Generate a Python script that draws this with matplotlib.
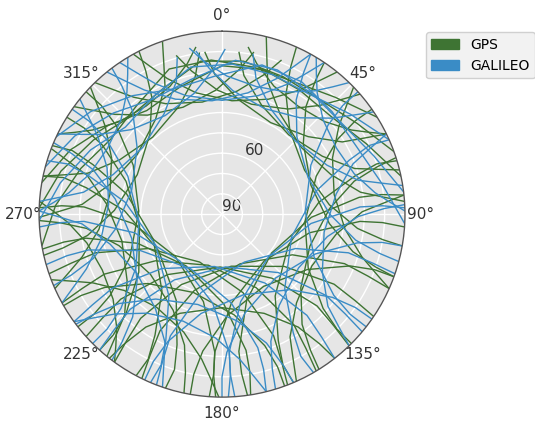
import numpy as np
import matplotlib
matplotlib.use("Agg")
import matplotlib.pyplot as plt
from matplotlib.patches import Patch

# satellite tracks: azimuth (deg) and elevation (deg)
gps_az = [
    [331, 334, 338, 348, 5, 22, 32, 36, 39],
    [354, 357, 8, 28, 48, 59, 62, 64],
    [14, 16, 19, 30, 50, 70, 81, 84, 86],
    [34, 35, 38, 49, 72, 95, 106, 109, 110],
    [55, 55, 57, 68, 95, 122, 133, 135, 135],
    [73, 72, 74, 83, 115, 147, 156, 158, 157],
    [94, 93, 93, 102, 138, 174, 183, 183, 182],
    [114, 113, 112, 120, 160, 200, 208, 207, 206],
    [136, 135, 134, 142, 182, 222, 230, 229, 228],
    [159, 158, 157, 165, 205, 245, 253, 252, 251],
    [184, 183, 183, 192, 228, 264, 273, 273, 272],
    [208, 207, 209, 218, 250, 282, 291, 293, 292],
    [232, 232, 234, 245, 272, 299, 310, 312, 312],
    [257, 258, 261, 272, 295, 318, 329, 332, 333],
    [282, 284, 287, 298, 318, 338, 349, 352],
    [306, 309, 313, 323, 340, 357, 7, 11],
    [344, 348, 358, 15, 32, 42, 46, 49],
    [6, 9, 20, 40, 60, 71, 74, 76],
    [24, 25, 28, 39, 62, 85, 96, 99, 100],
    [84, 83, 83, 92, 128, 164, 173, 173, 172],
    [124, 123, 122, 130, 170, 210, 218, 217, 216],
    [149, 148, 147, 155, 195, 235, 243, 242, 241],
    [171, 170, 170, 179, 215, 251, 260, 260, 259],
    [198, 197, 199, 208, 240, 272, 281, 283, 282],
    [222, 222, 224, 235, 262, 289, 300, 302, 302],
    [269, 271, 274, 285, 305, 325, 336, 339, 341],
    [316, 319, 323, 333, 350, 7, 17, 21],
    [110, 110, 112, 123, 150, 177, 188, 190, 190],
    [160, 160, 162, 173, 200, 227, 238, 240, 240],
    [192, 193, 196, 207, 230, 253, 264, 267, 268],
    [219, 221, 224, 235, 255, 275, 286, 289, 291],
    [72, 73, 76, 87, 110, 133, 144, 147, 148],
    [142, 143, 146, 157, 180, 203, 214, 217, 218],
    [84, 86, 89, 100, 120, 140, 151, 154, 156],
    [181, 184, 188, 198, 215, 232, 242, 246, 249],
    [246, 249, 253, 263, 280, 297, 307, 311, 314],
    [46, 49, 53, 63, 80, 97, 107, 111, 114],
    [296, 299, 303, 312, 325, 338, 347, 351],
    [9, 13, 22, 35, 48, 57, 61, 64],
    [216, 219, 223, 232, 245, 258, 267, 271, 274],
    [272, 285, 300, 316, 334, 352, 8, 24, 40, 56, 70],
    [260, 273, 288, 304, 322, 340, 356, 12, 28, 44, 58],
    [280, 293, 308, 324, 342, 0, 16, 32, 48, 64, 78],
]
gps_el = [
    [0, 9, 18, 29, 34, 29, 18, 9, 0],
    [10, 21, 33, 39, 33, 21, 10, 0],
    [0, 10, 21, 33, 39, 33, 21, 10, 0],
    [0, 10, 23, 37, 44, 37, 23, 10, 0],
    [0, 10, 22, 40, 49, 40, 22, 10, 0],
    [0, 10, 22, 42, 54, 42, 22, 10, 0],
    [0, 11, 22, 46, 59, 46, 22, 11, 0],
    [0, 12, 25, 50, 64, 50, 25, 12, 0],
    [0, 12, 25, 50, 64, 50, 25, 12, 0],
    [0, 12, 25, 50, 64, 50, 25, 12, 0],
    [0, 11, 22, 46, 59, 46, 22, 11, 0],
    [0, 10, 22, 42, 54, 42, 22, 10, 0],
    [0, 10, 22, 40, 49, 40, 22, 10, 0],
    [0, 10, 23, 37, 44, 37, 23, 10, 0],
    [0, 10, 21, 33, 39, 33, 21, 10],
    [0, 9, 18, 29, 34, 29, 18, 9],
    [9, 18, 29, 34, 29, 18, 9, 0],
    [10, 21, 33, 39, 33, 21, 10, 0],
    [0, 10, 23, 37, 44, 37, 23, 10, 0],
    [0, 11, 22, 46, 59, 46, 22, 11, 0],
    [0, 12, 25, 50, 64, 50, 25, 12, 0],
    [0, 12, 25, 50, 64, 50, 25, 12, 0],
    [0, 11, 22, 46, 59, 46, 22, 11, 0],
    [0, 10, 22, 42, 54, 42, 22, 10, 0],
    [0, 10, 22, 40, 49, 40, 22, 10, 0],
    [0, 10, 21, 33, 39, 33, 21, 10, 0],
    [0, 9, 18, 29, 34, 29, 18, 9],
    [0, 10, 22, 40, 49, 40, 22, 10, 0],
    [0, 10, 22, 40, 49, 40, 22, 10, 0],
    [0, 10, 23, 37, 44, 37, 23, 10, 0],
    [0, 10, 21, 33, 39, 33, 21, 10, 0],
    [0, 10, 23, 37, 44, 37, 23, 10, 0],
    [0, 10, 23, 37, 44, 37, 23, 10, 0],
    [0, 10, 21, 33, 39, 33, 21, 10, 0],
    [0, 9, 18, 29, 34, 29, 18, 9, 0],
    [0, 9, 18, 29, 34, 29, 18, 9, 0],
    [0, 9, 18, 29, 34, 29, 18, 9, 0],
    [0, 7, 14, 22, 25, 22, 14, 7],
    [7, 14, 22, 25, 22, 14, 7, 0],
    [0, 7, 14, 22, 25, 22, 14, 7, 0],
    [0, 8, 17, 24, 22, 14, 14, 16, 16, 10, 0],
    [0, 8, 17, 24, 22, 14, 14, 16, 16, 10, 0],
    [0, 9, 19, 27, 24, 17, 16, 18, 18, 11, 0],
]

galileo_az = [
    [326, 329, 333, 343, 0, 17, 27, 31, 34],
    [351, 355, 5, 22, 39, 49, 53, 56],
    [11, 14, 25, 45, 65, 76, 79, 81],
    [29, 30, 33, 44, 67, 90, 101, 104, 105],
    [48, 48, 50, 61, 88, 115, 126, 128, 128],
    [66, 65, 67, 76, 108, 140, 149, 151, 150],
    [88, 87, 87, 96, 132, 168, 177, 177, 176],
    [109, 108, 107, 115, 155, 195, 203, 202, 201],
    [130, 129, 128, 136, 176, 216, 224, 223, 222],
    [142, 141, 140, 148, 188, 228, 236, 235, 234],
    [166, 165, 165, 174, 210, 246, 255, 255, 254],
    [178, 177, 177, 186, 222, 258, 267, 267, 266],
    [203, 202, 204, 213, 245, 277, 286, 288, 287],
    [225, 225, 227, 238, 265, 292, 303, 305, 305],
    [247, 248, 251, 262, 285, 308, 319, 322, 323],
    [274, 276, 279, 290, 310, 330, 341, 344],
    [296, 299, 303, 313, 330, 347, 357, 1],
    [321, 324, 328, 338, 355, 12, 22, 26, 29],
    [100, 100, 102, 113, 140, 167, 178, 180, 180],
    [125, 125, 127, 138, 165, 192, 203, 205, 205],
    [157, 158, 161, 172, 195, 218, 229, 232, 233],
    [199, 201, 204, 215, 235, 255, 266, 269, 271],
    [217, 218, 221, 232, 255, 278, 289, 292, 293],
    [64, 66, 69, 80, 100, 120, 131, 134, 136],
    [31, 34, 38, 47, 60, 73, 82, 86, 89],
    [271, 274, 278, 287, 300, 313, 322, 326, 329],
    [166, 169, 173, 183, 200, 217, 227, 231, 234],
    [87, 88, 91, 102, 125, 148, 159, 162, 163],
    [241, 244, 248, 258, 275, 292, 302, 306, 309],
    [349, 353, 2, 15, 28, 37, 41, 44],
    [285, 298, 313, 329, 347, 5, 21, 37, 53, 69, 83],
    [295, 308, 323, 339, 357, 15, 31, 47, 63, 79, 93],
    [268, 281, 296, 312, 330, 348, 4, 20, 36, 52, 66],
]
galileo_el = [
    [0, 9, 18, 29, 34, 29, 18, 9, 0],
    [9, 18, 29, 34, 29, 18, 9, 0],
    [10, 21, 33, 39, 33, 21, 10, 0],
    [0, 10, 23, 37, 44, 37, 23, 10, 0],
    [0, 10, 22, 40, 49, 40, 22, 10, 0],
    [0, 10, 22, 42, 54, 42, 22, 10, 0],
    [0, 11, 22, 46, 59, 46, 22, 11, 0],
    [0, 12, 25, 50, 64, 50, 25, 12, 0],
    [0, 12, 25, 50, 64, 50, 25, 12, 0],
    [0, 12, 25, 50, 64, 50, 25, 12, 0],
    [0, 11, 22, 46, 59, 46, 22, 11, 0],
    [0, 11, 22, 46, 59, 46, 22, 11, 0],
    [0, 10, 22, 42, 54, 42, 22, 10, 0],
    [0, 10, 22, 40, 49, 40, 22, 10, 0],
    [0, 10, 23, 37, 44, 37, 23, 10, 0],
    [0, 10, 21, 33, 39, 33, 21, 10],
    [0, 9, 18, 29, 34, 29, 18, 9],
    [0, 9, 18, 29, 34, 29, 18, 9, 0],
    [0, 10, 22, 40, 49, 40, 22, 10, 0],
    [0, 10, 22, 40, 49, 40, 22, 10, 0],
    [0, 10, 23, 37, 44, 37, 23, 10, 0],
    [0, 10, 21, 33, 39, 33, 21, 10, 0],
    [0, 10, 23, 37, 44, 37, 23, 10, 0],
    [0, 10, 21, 33, 39, 33, 21, 10, 0],
    [0, 7, 14, 22, 25, 22, 14, 7, 0],
    [0, 7, 14, 22, 25, 22, 14, 7, 0],
    [0, 9, 18, 29, 34, 29, 18, 9, 0],
    [0, 10, 23, 37, 44, 37, 23, 10, 0],
    [0, 9, 18, 29, 34, 29, 18, 9, 0],
    [7, 14, 22, 25, 22, 14, 7, 0],
    [0, 8, 17, 24, 22, 14, 14, 16, 16, 10, 0],
    [0, 8, 17, 24, 22, 14, 14, 16, 16, 10, 0],
    [0, 9, 18, 26, 23, 16, 16, 17, 17, 10, 0],
]

theta_labels = ['0°', '45°', '90°', '135°', '180°', '225°', '270°', '315°']
r_labels = ['90', '', '', '60', '', '', '', '', '', '']

gps_color = '#3e7433'
gal_color = '#3a8cc6'

fig = plt.figure(figsize=(5.35, 4.22), dpi=100)
ax = fig.add_axes([0.073, 0.059, 0.684, 0.867], projection='polar')
ax.set_facecolor('#e6e6e6')
ax.set_theta_zero_location('N')
ax.set_theta_direction(-1)

for az, el in zip(gps_az, gps_el):
    ax.plot(np.radians(az), 90 - np.array(el), color=gps_color, lw=1.0)
for az, el in zip(galileo_az, galileo_el):
    ax.plot(np.radians(az), 90 - np.array(el), color=gal_color, lw=1.0)

ax.set_rlim(0, 90)
ax.set_yticks(range(0, 91, 10))
ax.set_yticklabels(r_labels, fontsize=11, color='#333333')
ax.set_xticks(np.radians(range(0, 360, 45)))
ax.set_xticklabels(theta_labels, fontsize=11, color='#333333')
ax.tick_params(axis='x', pad=1)
ax.grid(color='white', lw=1)
ax.spines['polar'].set_color('#555555')
ax.spines['polar'].set_linewidth(1)

handles = [Patch(color=gps_color, label='GPS'), Patch(color=gal_color, label='GALILEO')]
fig.legend(handles=handles, loc='upper left', bbox_to_anchor=(0.783, 0.94),
           fontsize=10, facecolor='#f2f2f2', edgecolor='#d0d0d0', framealpha=1)

fig.savefig('out.png', dpi=100)
